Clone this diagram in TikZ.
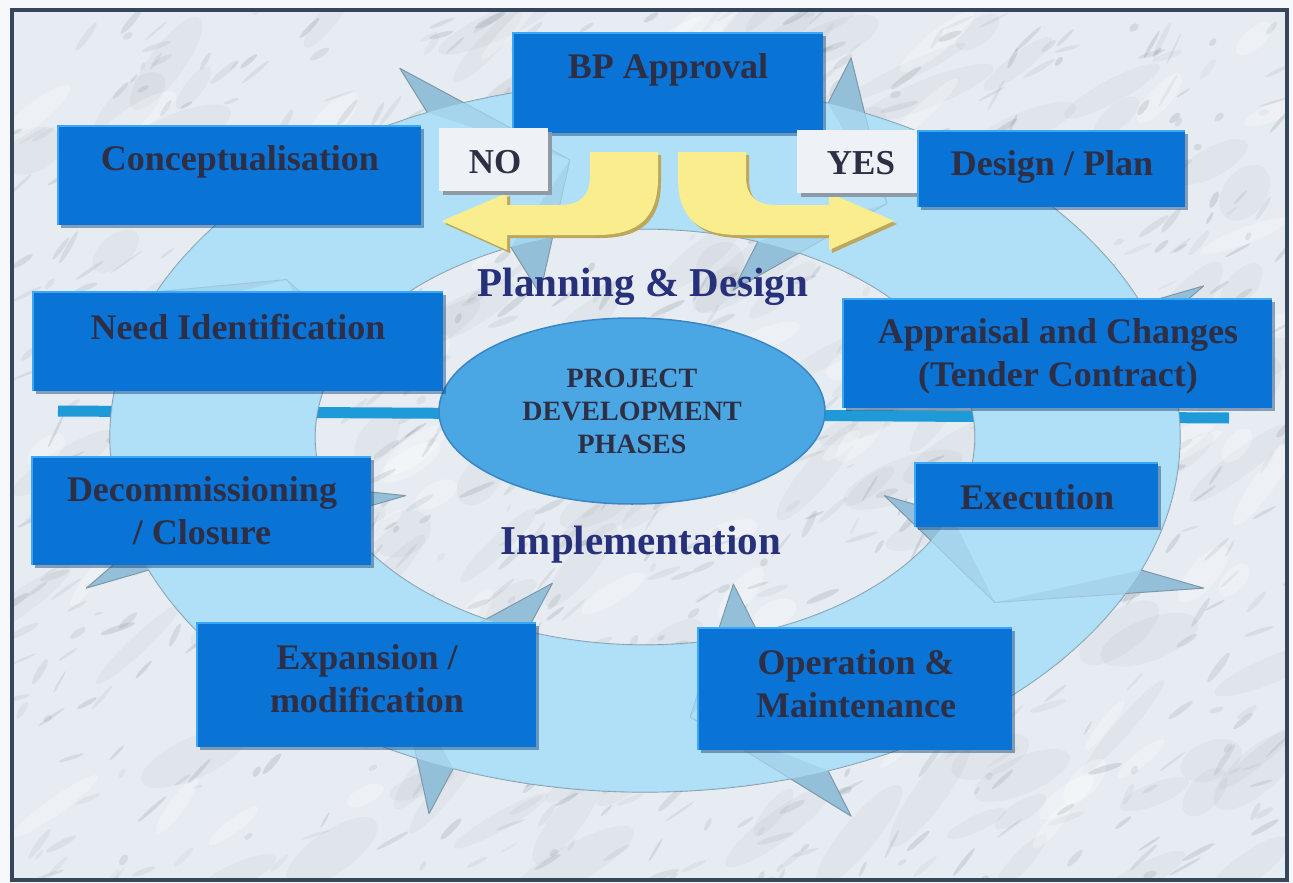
\documentclass[tikz,border=0pt]{standalone}
\usepackage{fontspec}
\setmainfont{Liberation Serif}
\usetikzlibrary{fit,shapes.geometric}

\definecolor{page}{HTML}{F6F8FB}
\definecolor{frame}{HTML}{34475B}
\definecolor{marblebase}{HTML}{E6ECF1}
\definecolor{vein}{HTML}{707A86}
\definecolor{ringblue}{HTML}{B0E0F7}
\definecolor{headshade}{HTML}{93C0D8}
\definecolor{ringline}{HTML}{7F98A8}
\definecolor{axisblue}{HTML}{1E9AD8}
\definecolor{hubblue}{HTML}{4AA7E3}
\definecolor{hubedge}{HTML}{3A86C4}
\definecolor{boxblue}{HTML}{0A73D6}
\definecolor{boxlight}{HTML}{3AA8F4}
\definecolor{boxdark}{HTML}{0F3F73}
\definecolor{labelink}{HTML}{2E2E45}
\definecolor{phaseink}{HTML}{27307A}
\definecolor{flagwhite}{HTML}{EEF2F6}
\definecolor{flagshadow}{HTML}{8E9BA6}
\definecolor{arrowyellow}{HTML}{FAED8E}
\definecolor{arrowshadow}{HTML}{BCA75C}

\tikzset{
  phasebox/.style={rectangle, fill=boxblue, inner sep=0pt},
  phasetext/.style={text=labelink, font=\fontsize{36}{43}\selectfont\bfseries,
    align=center, inner sep=0pt},
  flagbox/.style={rectangle, fill=flagwhite, inner sep=0pt},
  flagtext/.style={text=labelink, font=\fontsize{35}{40}\selectfont\bfseries, inner sep=0pt},
  stagetext/.style={text=phaseink, font=\fontsize{41}{46}\selectfont\bfseries, inner sep=0pt},
  hub/.style={ellipse, fill=hubblue, draw=hubedge, line width=1.5,
    minimum width=386, minimum height=186, inner sep=0pt,
    text=labelink, font=\fontsize{28}{33}\selectfont\bfseries, align=center},
}

% blue phase box: name, x1, y1, x2, y2 (pixel-like units, y downwards)
\newcommand{\phasebox}[5]{%
  \fill[boxdark,opacity=.45] ({#2+3},{#3+3}) rectangle ({#4+3},{#5+3});
  \node[phasebox,fit={(#2,#3) (#4,#5)}] (#1) {};
  \draw[boxlight,line width=2.5] (#1.south west) -- (#1.north west) -- (#1.north east);
}
% white decision flag
\newcommand{\flagbox}[5]{%
  \fill[flagshadow] ({#2+4},{#3+4}) rectangle ({#4+4},{#5+4});
  \node[flagbox,fit={(#2,#3) (#4,#5)}] (#1) {};
}
% bent yellow arrow leaving the approval box to the left
\newcommand{\bentshape}[1]{%
  \fill[#1] (590,152) -- (658,152) -- (658,178)
    .. controls (658,218) and (638,235) .. (597,235) -- (507,235)
    -- (507,250) -- (442,221) -- (507,193) -- (507,205) -- (560,205)
    .. controls (580,205) and (590,196) .. (590,176) -- cycle;
}

\begin{document}
\begin{tikzpicture}[x=1pt,y=-1pt]
\useasboundingbox (0,0) rectangle (1293,883);
\fill[page] (0,0) rectangle (1293,883);

% marble slide background
\fill[marblebase] (12,10) rectangle (1287,880);
\begin{scope}
  \clip (12,10) rectangle (1287,880);
  \pgfmathsetseed{31}
  % soft grey clouds
  \foreach \i in {1,...,140}{
    \pgfmathsetmacro\mx{12+1275*rnd}
    \pgfmathsetmacro\my{10+870*rnd}
    \pgfmathsetmacro\ma{25+50*rnd}
    \pgfmathsetmacro\mb{8+14*rnd}
    \pgfmathsetmacro\mr{20+35*rnd}
    \fill[vein,opacity=.06,shift={(\mx,\my)},rotate=\mr] (0,0) ellipse ({\ma} and {\mb});
  }
  % light patches
  \foreach \i in {1,...,90}{
    \pgfmathsetmacro\mx{12+1275*rnd}
    \pgfmathsetmacro\my{10+870*rnd}
    \pgfmathsetmacro\ma{18+35*rnd}
    \pgfmathsetmacro\mb{5+9*rnd}
    \pgfmathsetmacro\mr{20+35*rnd}
    \fill[white,opacity=.3,shift={(\mx,\my)},rotate=\mr] (0,0) ellipse ({\ma} and {\mb});
  }
  % fine veins
  \foreach \i in {1,...,750}{
    \pgfmathsetmacro\mx{12+1275*rnd}
    \pgfmathsetmacro\my{10+870*rnd}
    \pgfmathsetmacro\ma{4+16*rnd}
    \pgfmathsetmacro\mb{1+2.5*rnd}
    \pgfmathsetmacro\mr{15+50*rnd}
    \pgfmathsetmacro\mo{0.06+0.14*rnd}
    \fill[vein,opacity=\mo,shift={(\mx,\my)},rotate=\mr] (0,0) ellipse ({\ma} and {\mb});
  }
\end{scope}
\draw[frame,line width=4] (12,10) rectangle (1287,880);

% horizontal axis behind the ring
\coordinate (axisL) at (58,411);
\coordinate (axisR) at (1229,418);
\draw[axisblue,line width=11] (axisL) -- (axisR);

% circular ring of arrows
\coordinate (ringc) at (645,437);
\fill[ringblue,even odd rule] (ringc) ellipse (535 and 355) (ringc) ellipse (330 and 208);
\draw[ringline,line width=1.2] (ringc) ellipse (535 and 355);
\draw[ringline,line width=1.2] (ringc) ellipse (330 and 208);
\foreach \ang [count=\k] in {22,70,111,158,200,246,290,338}{
  \pgfmathsetmacro\tipang{\ang+14}
  \coordinate (bo\k) at ({645+602.65*cos(\ang)},{437+403.5*sin(\ang)});
  \coordinate (bi\k) at ({645+258.25*cos(\ang)},{437+156.55*sin(\ang)});
  \coordinate (po\k) at ({645+535*cos(\ang)},{437+355*sin(\ang)});
  \coordinate (pi\k) at ({645+330*cos(\ang)},{437+208*sin(\ang)});
  \coordinate (tip\k) at ({645+432.5*cos(\tipang)},{437+281.5*sin(\tipang)});
  \fill[ringblue] (bo\k) -- (tip\k) -- (bi\k) -- cycle;
  \fill[headshade] (po\k) -- (bo\k) -- (tip\k) -- cycle;
  \fill[headshade] (pi\k) -- (bi\k) -- (tip\k) -- cycle;
  \draw[ringline,line width=1,line join=round] (po\k) -- (bo\k) -- (tip\k) -- (bi\k) -- (pi\k);
}
% soften the head shading where it lies on the ring band
\fill[ringblue,opacity=.65,even odd rule] (ringc) ellipse (535 and 355) (ringc) ellipse (330 and 208);

% central hub
\node[hub] (hub) at (632,411) {PROJECT\\DEVELOPMENT\\PHASES};

% stage captions
\node[stagetext] (planning) at (643,287) {Planning \& Design};
\node[stagetext] (implementation) at (641,545) {Implementation};

% decision arrows
\begin{scope}[shift={(3,3)}]
  \bentshape{arrowshadow}
  \begin{scope}[shift={(1336,0)},xscale=-1]
    \bentshape{arrowshadow}
  \end{scope}
\end{scope}
\bentshape{arrowyellow}
\begin{scope}[shift={(1336,0)},xscale=-1]
  \bentshape{arrowyellow}
\end{scope}

% phase boxes
\phasebox{approval}{513}{33}{823}{133}
\node[phasetext] (approval-t) at (668,70) {BP Approval};

\phasebox{concept}{58}{126}{421}{225}
\node[phasetext] (concept-t) at (240,162) {Conceptualisation};

\flagbox{noflag}{439}{128}{548}{191}
\node[flagtext] (noflag-t) at (495,162) {NO};

\flagbox{yesflag}{797}{130}{919}{193}
\node[flagtext] (yesflag-t) at (861,163) {YES};

\phasebox{design}{918}{131}{1185}{207}
\node[phasetext] (design-t) at (1052,167) {Design / Plan};

\phasebox{need}{33}{292}{443}{391}
\node[phasetext] (need-t) at (238,327) {Need Identification};

\phasebox{appraisal}{843}{299}{1272}{408}
\node[phasetext] (appraisal-t) at (1058,356) {Appraisal and Changes\\(Tender Contract)};

\phasebox{closure}{32}{457}{371}{565}
\node[phasetext] (closure-t) at (202,511) {Decommissioning\\/ Closure};

\phasebox{execution}{915}{463}{1158}{527}
\node[phasetext] (execution-t) at (1037,497) {Execution};

\phasebox{expansion}{197}{623}{536}{747}
\node[phasetext] (expansion-t) at (367,679) {Expansion /\\modification};

\phasebox{operation}{698}{628}{1012}{750}
\node[phasetext] (operation-t) at (856,684) {Operation \&\\Maintenance};

\end{tikzpicture}
\end{document}
